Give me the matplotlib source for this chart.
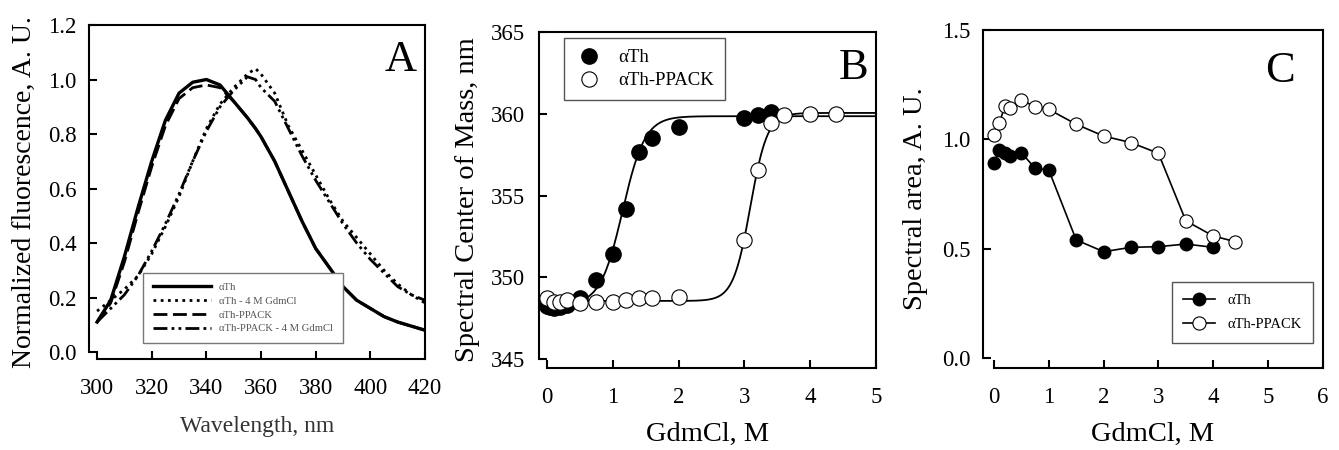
import matplotlib
matplotlib.use('Agg')
import matplotlib.pyplot as plt
import numpy as np

plt.rcParams['font.family'] = ['Liberation Serif', 'DejaVu Serif']

# panel A: normalized emission spectra
wavelength = [300, 305, 310, 315, 320, 325, 330, 335, 340, 345, 350, 355, 358, 360,
              365, 370, 375, 380, 385, 390, 395, 400, 405, 410, 415, 420]
ath = [0.11, 0.19, 0.35, 0.53, 0.70, 0.85, 0.95, 0.99, 1.00, 0.98, 0.92, 0.86, 0.82, 0.79,
       0.70, 0.59, 0.48, 0.38, 0.31, 0.24, 0.19, 0.16, 0.13, 0.11, 0.095, 0.08]
ath_gdm = [0.15, 0.19, 0.23, 0.28, 0.36, 0.46, 0.57, 0.70, 0.82, 0.91, 0.97, 1.02, 1.04, 1.02,
           0.95, 0.83, 0.74, 0.65, 0.56, 0.48, 0.42, 0.36, 0.30, 0.25, 0.21, 0.18]
ath_ppack = [0.11, 0.18, 0.33, 0.51, 0.68, 0.83, 0.93, 0.97, 0.98, 0.97, 0.92, 0.86, 0.82, 0.79,
             0.70, 0.59, 0.48, 0.38, 0.31, 0.24, 0.19, 0.16, 0.13, 0.11, 0.095, 0.08]
ath_ppack_gdm = [0.11, 0.16, 0.21, 0.28, 0.37, 0.47, 0.58, 0.70, 0.81, 0.90, 0.96, 1.01, 1.00, 0.97,
                 0.92, 0.82, 0.72, 0.63, 0.55, 0.47, 0.40, 0.34, 0.29, 0.24, 0.21, 0.19]

# panel B: spectral center of mass vs GdmCl
b_ath_x = [0.0, 0.05, 0.1, 0.2, 0.3, 0.5, 0.75, 1.0, 1.2, 1.4, 1.6, 2.0, 3.0, 3.2, 3.4]
b_ath_y = [348.25, 348.2, 348.1, 348.2, 348.3, 348.75, 349.83, 351.4, 354.16, 357.68, 358.5,
           359.2, 359.72, 359.92, 360.13]
b_pp_x = [0.0, 0.1, 0.2, 0.3, 0.5, 0.75, 1.0, 1.2, 1.4, 1.6, 2.0, 3.0, 3.2, 3.4, 3.6, 4.0, 4.4]
b_pp_y = [348.75, 348.5, 348.5, 348.6, 348.4, 348.5, 348.5, 348.6, 348.75, 348.75, 348.8,
          352.28, 356.56, 359.42, 359.92, 359.98, 360.0]
# two-state fit parameters (low, high, midpoint, width)
fit_ath = (348.3, 359.85, 1.15, 0.17)
fit_pp = (348.55, 360.05, 3.09, 0.13)

# panel C: spectral area vs GdmCl
c_ath_x = [0.0, 0.1, 0.2, 0.3, 0.5, 0.75, 1.0, 1.5, 2.0, 2.5, 3.0, 3.5, 4.0]
c_ath_y = [0.893, 0.951, 0.939, 0.924, 0.939, 0.868, 0.86, 0.54, 0.486, 0.506, 0.509, 0.521, 0.506]
c_pp_x = [0.0, 0.1, 0.2, 0.3, 0.5, 0.75, 1.0, 1.5, 2.0, 2.5, 3.0, 3.5, 4.0, 4.4]
c_pp_y = [1.02, 1.076, 1.152, 1.142, 1.18, 1.149, 1.137, 1.069, 1.015, 0.985, 0.936, 0.627,
          0.558, 0.532]

fig = plt.figure(figsize=(13.39, 4.5), dpi=100)
axA = fig.add_axes([0.0665, 0.2022, 0.2509, 0.7422])
axB = fig.add_axes([0.4025, 0.1822, 0.2517, 0.7467])
axC = fig.add_axes([0.7341, 0.1822, 0.2539, 0.7511])


def style(ax, xlim, ylim, xticks, yticks, fmt, ypad):
    # SigmaPlot-like frame: left/bottom axes offset, ticks pointing in
    ax.set_xlim(*xlim)
    ax.set_ylim(*ylim)
    ax.set_xticks(xticks)
    ax.set_yticks(yticks)
    ax.set_yticklabels([fmt % t for t in yticks])
    ax.spines['left'].set_bounds(yticks[0], ylim[1])
    ax.spines['bottom'].set_bounds(xticks[0], xlim[1])
    for s in ax.spines.values():
        s.set_linewidth(1.5)
    ax.tick_params(direction='in', length=6, width=1.5, labelsize=16.5)
    ax.tick_params(axis='x', pad=14)
    ax.tick_params(axis='y', pad=ypad)


# --- A ---
axA.plot(wavelength, ath, 'k-', lw=2.4, label='αTh')
axA.plot(wavelength, ath_gdm, 'k', ls=(0, (1, 1.6)), lw=2.0, label='αTh - 4 M GdmCl')
axA.plot(wavelength, ath_ppack, 'k', ls=(0, (5, 2)), lw=2.0, label='αTh-PPACK')
axA.plot(wavelength, ath_ppack_gdm, 'k', ls=(0, (5, 1.5, 1, 1.5, 1, 1.5)), lw=2.0,
         label='αTh-PPACK - 4 M GdmCl')
style(axA, (297.07, 420), (-0.0257, 1.2), [300, 320, 340, 360, 380, 400, 420],
      [0.0, 0.2, 0.4, 0.6, 0.8, 1.0, 1.2], '%.1f', 9)
axA.set_xlabel('Wavelength, nm', fontsize=17, labelpad=12, color='#333333')
axA.set_ylabel('Normalized fluorescence, A. U.', fontsize=20, labelpad=8)
axA.text(0.976, 0.895, 'A', transform=axA.transAxes, fontsize=32, ha='right', va='center')
legA = axA.legend(loc='lower left', bbox_to_anchor=(0.161, 0.048), borderaxespad=0,
                  fontsize=7.7, handlelength=5.4, fancybox=False, framealpha=1,
                  edgecolor='#777777', labelspacing=0.4, borderpad=0.9)
for t in legA.get_texts():
    t.set_color('#555555')

# --- B ---
xs = np.linspace(0, 5, 400)
lo, hi, mid, w = fit_ath
axB.plot(xs, lo + (hi - lo) / (1 + np.exp(-(xs - mid) / w)), 'k-', lw=1.3)
lo, hi, mid, w = fit_pp
axB.plot(xs, lo + (hi - lo) / (1 + np.exp(-(xs - mid) / w)), 'k-', lw=1.3)
axB.plot(b_ath_x, b_ath_y, 'o', ms=11, mfc='black', mec='black', mew=1, ls='none',
         label='αTh')
axB.plot(b_pp_x, b_pp_y, 'o', ms=11, mfc='white', mec='black', mew=0.8, ls='none',
         label='αTh-PPACK')
style(axB, (-0.122, 5), (344.45, 365), [0, 1, 2, 3, 4, 5], [345, 350, 355, 360, 365], '%d', 10)
axB.set_xlabel('GdmCl, M', fontsize=20.5, labelpad=10)
axB.set_ylabel('Spectral Center of Mass, nm', fontsize=20.5, labelpad=8)
axB.text(0.976, 0.894, 'B', transform=axB.transAxes, fontsize=32, ha='right', va='center')
axB.legend(loc='upper left', bbox_to_anchor=(0.074, 0.982), borderaxespad=0, fontsize=13.5,
           fancybox=False, framealpha=1, edgecolor='#555555', handletextpad=0.8,
           labelspacing=0.3, borderpad=0.6, handlelength=1.5)

# --- C ---
axC.plot(c_ath_x, c_ath_y, 'o-', color='black', lw=1.2, ms=9, mfc='black', mec='black',
         label='αTh')
axC.plot(c_pp_x, c_pp_y, 'o-', color='black', lw=1.2, ms=9.5, mfc='white', mec='black',
         mew=0.8, label='αTh-PPACK')
style(axC, (-0.2, 6), (-0.046, 1.5), [0, 1, 2, 3, 4, 5, 6], [0.0, 0.5, 1.0, 1.5], '%.1f', 9)
axC.set_xlabel('GdmCl, M', fontsize=20.5, labelpad=10)
axC.set_ylabel('Spectral area, A. U.', fontsize=20.5, labelpad=10)
axC.text(0.918, 0.879, 'C', transform=axC.transAxes, fontsize=32, ha='right', va='center')
axC.legend(loc='lower right', bbox_to_anchor=(0.971, 0.074), borderaxespad=0, fontsize=10.5,
           fancybox=False, framealpha=1, edgecolor='#555555', handlelength=2.2,
           labelspacing=0.75, borderpad=0.8)

fig.savefig('out.png', dpi=100, facecolor='white')
